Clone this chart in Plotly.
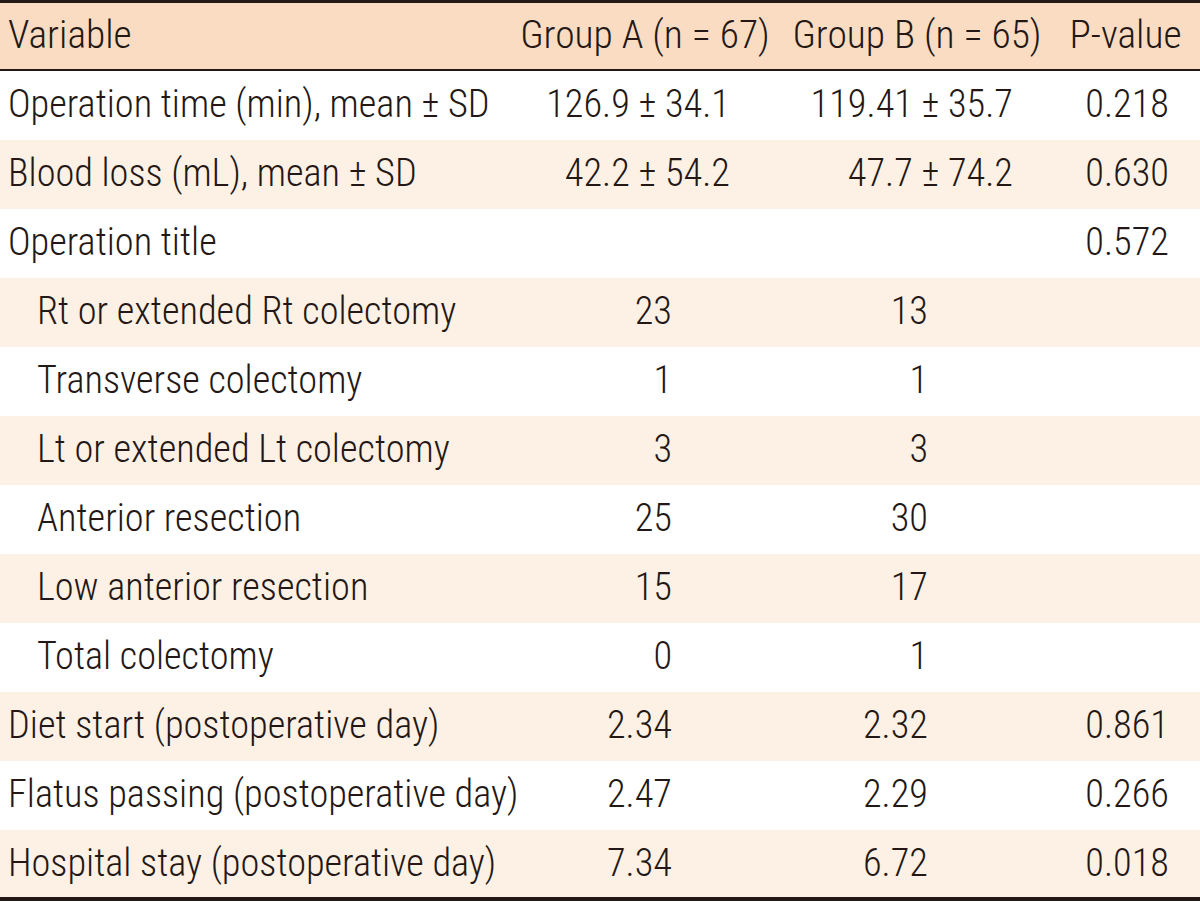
import plotly.graph_objects as go

# ---- data ----
headers = ["Variable", "Group A (n = 67)", "Group B (n = 65)", "P-value"]
variables = [
    "Operation time (min), mean ± SD",
    "Blood loss (mL), mean ± SD",
    "Operation title",
    "Rt or extended Rt colectomy",
    "Transverse colectomy",
    "Lt or extended Lt colectomy",
    "Anterior resection",
    "Low anterior resection",
    "Total colectomy",
    "Diet start (postoperative day)",
    "Flatus passing (postoperative day)",
    "Hospital stay (postoperative day)",
]
sub_level = [0, 0, 0, 1, 1, 1, 1, 1, 1, 0, 0, 0]
group_a = ["126.9 ± 34.1", "42.2 ± 54.2", "", "23", "1", "3", "25", "15", "0", "2.34", "2.47", "7.34"]
group_b = ["119.41 ± 35.7", "47.7 ± 74.2", "", "13", "1", "3", "30", "17", "1", "2.32", "2.29", "6.72"]
p_values = ["0.218", "0.630", "0.572", "", "", "", "", "", "", "0.861", "0.266", "0.018"]

# ---- layout constants ----
W, H = 1200, 902
HEAD_TOP, HEAD_BOT = 3, 70
ROW_TOP, ROW_H = 71, 69
TEXT_DY = 1.5
FONT = "Roboto Condensed, DejaVu Sans Condensed, sans-serif"
FSIZE = 38.3
HSIZE = 39.5
WEIGHT = 300
TXT = "#231815"
HEAD_BG = "#F9DCC1"
ALT_BG = "#FDF0E4"

n = len(variables)
row_y = [ROW_TOP + ROW_H * (i + 0.5) + TEXT_DY for i in range(n)]
head_y = (HEAD_TOP + HEAD_BOT) / 2 + TEXT_DY

tf = dict(family=FONT, size=FSIZE, color=TXT, weight=WEIGHT)
hf = dict(family=FONT, size=HSIZE, color=TXT, weight=WEIGHT)

fig = go.Figure()

# header texts
fig.add_trace(go.Scatter(x=[8], y=[head_y], text=[headers[0]], mode="text",
                         textposition="middle right", textfont=hf, hoverinfo="skip"))
fig.add_trace(go.Scatter(x=[645, 917, 1125.5], y=[head_y] * 3, text=headers[1:], mode="text",
                         textposition="middle center", textfont=hf, hoverinfo="skip"))

# variable column
fig.add_trace(go.Scatter(x=[37 if lv else 8 for lv in sub_level], y=row_y, text=variables,
                         mode="text", textposition="middle right", textfont=tf, hoverinfo="skip"))

# value columns (right aligned)
def col_x(vals, right_pm, right_num):
    return [right_pm if "±" in v else right_num for v in vals]

fig.add_trace(go.Scatter(x=col_x(group_a, 730, 672), y=row_y, text=group_a, mode="text",
                         textposition="middle left", textfont=tf, hoverinfo="skip"))
fig.add_trace(go.Scatter(x=col_x(group_b, 1013, 928), y=row_y, text=group_b, mode="text",
                         textposition="middle left", textfont=tf, hoverinfo="skip"))
fig.add_trace(go.Scatter(x=[1169] * n, y=row_y, text=p_values, mode="text",
                         textposition="middle left", textfont=tf, hoverinfo="skip"))

shapes = []
# header background
shapes.append(dict(type="rect", xref="x", yref="y", x0=0, x1=W, y0=HEAD_TOP, y1=HEAD_BOT,
                   fillcolor=HEAD_BG, line=dict(width=0), layer="below"))
# alternating row backgrounds
for i in range(n):
    if i % 2 == 1:
        shapes.append(dict(type="rect", xref="x", yref="y", x0=0, x1=W,
                           y0=ROW_TOP + ROW_H * i, y1=ROW_TOP + ROW_H * (i + 1),
                           fillcolor=ALT_BG, line=dict(width=0), layer="below"))
# rules
shapes.append(dict(type="line", xref="x", yref="y", x0=0, x1=W, y0=1.5, y1=1.5,
                   line=dict(color=TXT, width=3)))
shapes.append(dict(type="line", xref="x", yref="y", x0=0, x1=W, y0=70, y1=70,
                   line=dict(color=TXT, width=2)))
shapes.append(dict(type="line", xref="x", yref="y", x0=0, x1=W, y0=899, y1=899,
                   line=dict(color=TXT, width=4)))

fig.update_layout(
    width=W, height=H,
    margin=dict(l=0, r=0, t=0, b=0),
    paper_bgcolor="white", plot_bgcolor="white",
    showlegend=False,
    shapes=shapes,
    xaxis=dict(range=[0, W], visible=False, fixedrange=True),
    yaxis=dict(range=[H, 0], visible=False, fixedrange=True),
)

fig.write_html("out.html", config={"displayModeBar": False},
               post_script="document.body.style.margin='0';")
